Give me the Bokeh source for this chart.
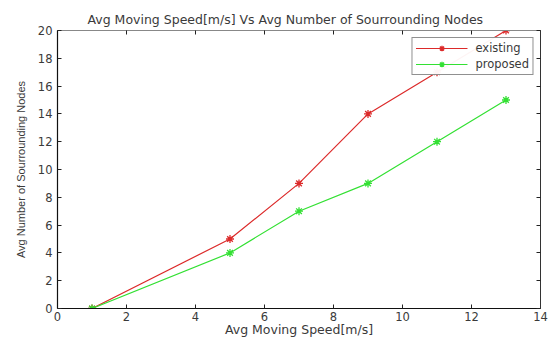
from bokeh.plotting import figure
from bokeh.models import LinearAxis, FixedTicker, Legend, LegendItem
from bokeh.embed import file_html
from bokeh.resources import INLINE

speed = [1, 5, 7, 9, 11, 13]
existing = [0, 5, 9, 14, 17, 20]
proposed = [0, 4, 7, 9, 12, 15]
x_ticks = [0, 2, 4, 6, 8, 10, 12, 14]
y_ticks = [0, 2, 4, 6, 8, 10, 12, 14, 16, 18, 20]

FONT = "DejaVu Sans"
TXT = "#3a3a3a"

p = figure(width=555, height=340, x_range=(0, 14), y_range=(0, 20),
           output_backend="svg", toolbar_location=None,
           min_border_left=57, min_border_right=15, min_border_top=30, min_border_bottom=32)
p.background_fill_color = "white"
p.border_fill_color = "white"
p.outline_line_color = None
p.grid.visible = False

p.title.text = "Avg Moving Speed[m/s] Vs Avg Number of Sourrounding Nodes"
p.title.align = "left"
p.title.offset = 30
p.title.text_font = FONT
p.title.text_font_size = "12.5px"
p.title.text_font_style = "normal"
p.title.text_color = TXT
p.title.standoff = 8

for ax in (p.xaxis[0], p.yaxis[0]):
    ax.major_tick_in = 4
    ax.major_tick_out = 0
    ax.minor_tick_in = 0
    ax.minor_tick_out = 0
    ax.axis_line_color = "#111111"
    ax.axis_line_width = 1.2
    ax.major_tick_line_color = "#222222"
    ax.major_label_text_font = FONT
    ax.major_label_text_font_size = "11.5px"
    ax.major_label_text_color = TXT
    ax.axis_label_text_font_style = "normal"
    ax.axis_label_text_color = TXT

p.xaxis[0].ticker = FixedTicker(ticks=x_ticks)
p.yaxis[0].ticker = FixedTicker(ticks=y_ticks)
p.xaxis[0].axis_label = "Avg Moving Speed[m/s]"
p.yaxis[0].axis_label = "Avg Number of Sourrounding Nodes"
p.xaxis[0].axis_label_text_font = FONT
p.xaxis[0].axis_label_text_font_size = "12.5px"
p.yaxis[0].axis_label_text_font = "Liberation Sans"
p.yaxis[0].axis_label_text_font_size = "11px"
p.xaxis[0].major_label_standoff = 3
p.xaxis[0].axis_label_standoff = -2
p.yaxis[0].major_label_standoff = 5
p.yaxis[0].axis_label_standoff = 8

top = LinearAxis(ticker=FixedTicker(ticks=x_ticks),
                 major_label_overrides={t: "" for t in x_ticks},
                 major_tick_in=4, major_tick_out=0, minor_tick_in=0, minor_tick_out=0,
                 major_label_standoff=0, axis_line_color="#888888",
                 major_tick_line_color="#222222")
right = LinearAxis(ticker=FixedTicker(ticks=y_ticks),
                   major_label_overrides={t: "" for t in y_ticks},
                   major_tick_in=4, major_tick_out=0, minor_tick_in=0, minor_tick_out=0,
                   major_label_standoff=0, axis_line_color="#333333",
                   major_tick_line_color="#222222")
p.add_layout(top, "above")
p.add_layout(right, "right")

RED = "#dc2a2a"
GREEN = "#33e033"
l1 = p.line(speed, existing, line_color=RED, line_width=1.2)
m1 = p.scatter(speed, existing, marker="asterisk", size=8, line_color=RED, line_width=1.3)
l2 = p.line(speed, proposed, line_color=GREEN, line_width=1.2)
m2 = p.scatter(speed, proposed, marker="asterisk", size=8, line_color=GREEN, line_width=1.3)

legend = Legend(items=[LegendItem(label="existing", renderers=[l1, m1]),
                       LegendItem(label="proposed", renderers=[l2, m2])],
                location="top_right")
legend.label_text_font = FONT
legend.label_text_font_size = "11.5px"
legend.label_text_color = TXT
legend.border_line_color = "#222222"
legend.border_line_width = 1.2
legend.glyph_width = 52
legend.glyph_height = 14
legend.label_height = 14
legend.spacing = 2
legend.padding = 3
legend.margin = 7
legend.label_standoff = 8
p.add_layout(legend)

open("out.html", "w").write(file_html(p, INLINE))
